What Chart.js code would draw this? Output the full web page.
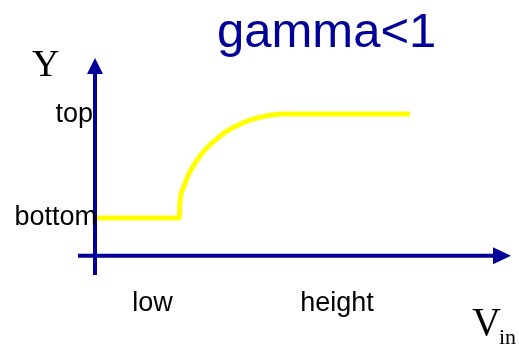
<!DOCTYPE html>
<html>
<head>
<meta charset="utf-8">
<script src="https://cdn.jsdelivr.net/npm/chart.js@4"></script>
<style>
  html, body { margin: 0; padding: 0; background: #fff; }
  canvas { display: block; }
</style>
</head>
<body>
<canvas id="gammaChart" width="519" height="347"></canvas>
<script>
// input voltage (arbitrary units, 0 = Y axis) and output level (0 = bottom, 1 = top)
const vin = [0, 8.43, 8.5, 8.83, 9.33, 10.0, 10.83, 11.83, 13.0, 14.17, 15.5, 17.17, 18.83, 31.5];
const yOut = [0, 0, 0.157, 0.285, 0.413, 0.526, 0.637, 0.733, 0.824, 0.888, 0.942, 0.984, 1, 1];

const yTickValues = [1, 0];
const yTickLabels = ['top', 'bottom'];
const xTickValues = [5.75, 24.2];
const xTickLabels = ['low', 'height'];

const titleText = 'gamma<1';
const NAVY = '#000099';

// draws the arrowed axes, labels and title on top of the curve
const axesPlugin = {
    id: 'arrowAxes',
    afterDatasetsDraw(chart) {
        const ctx = chart.ctx;
        const xs = chart.scales.x;
        const ys = chart.scales.y;
        const area = chart.chartArea;
        const ox = xs.getPixelForValue(0);
        const oy = ys.getPixelForValue(-0.365);

        ctx.save();
        ctx.strokeStyle = NAVY;
        ctx.fillStyle = NAVY;
        ctx.lineWidth = 4;

        // Y axis
        ctx.beginPath();
        ctx.moveTo(ox, area.bottom);
        ctx.lineTo(ox, area.top + 14);
        ctx.stroke();
        ctx.beginPath();
        ctx.moveTo(ox, area.top);
        ctx.lineTo(ox - 8, area.top + 16);
        ctx.lineTo(ox + 8, area.top + 16);
        ctx.closePath();
        ctx.fill();

        // X axis
        ctx.beginPath();
        ctx.moveTo(area.left, oy);
        ctx.lineTo(area.right - 16, oy);
        ctx.stroke();
        ctx.beginPath();
        ctx.moveTo(area.right, oy);
        ctx.lineTo(area.right - 18, oy - 8.5);
        ctx.lineTo(area.right - 18, oy + 8.5);
        ctx.closePath();
        ctx.fill();

        // tick labels
        ctx.fillStyle = '#000';
        ctx.font = '27px "Liberation Sans", Arial, sans-serif';
        ctx.textAlign = 'right';
        ctx.textBaseline = 'middle';
        yTickValues.forEach((v, i) => {
            ctx.fillText(yTickLabels[i], i === 0 ? ox - 2 : ox + 2, ys.getPixelForValue(v));
        });
        ctx.textAlign = 'center';
        ctx.textBaseline = 'alphabetic';
        xTickValues.forEach((v, i) => {
            ctx.fillText(xTickLabels[i], xs.getPixelForValue(v), 311);
        });

        // axis titles
        ctx.font = '38px "Liberation Serif", "Times New Roman", serif';
        ctx.textAlign = 'left';
        ctx.fillText('Y', 32, 76);
        ctx.font = '40px "Liberation Serif", "Times New Roman", serif';
        ctx.fillText('V', 472, 335);
        ctx.font = '22px "Liberation Serif", "Times New Roman", serif';
        ctx.fillText('in', 499, 344);

        // title
        ctx.fillStyle = NAVY;
        ctx.font = '49px "Liberation Sans", Arial, sans-serif';
        ctx.fillText(titleText, 217, 47);
        ctx.restore();
    }
};

new Chart(document.getElementById('gammaChart').getContext('2d'), {
    type: 'line',
    data: {
        datasets: [{
            data: vin.map((v, i) => ({ x: v, y: yOut[i] })),
            borderColor: '#ffff00',
            borderWidth: 5,
            pointRadius: 0,
            cubicInterpolationMode: 'monotone',
            fill: false
        }]
    },
    options: {
        responsive: false,
        animation: false,
        layout: { padding: { left: 78, right: 8, top: 58, bottom: 72 } },
        scales: {
            x: { type: 'linear', min: -1.7, max: 41.6, display: false },
            y: { type: 'linear', min: -0.55, max: 1.54, display: false }
        },
        plugins: {
            legend: { display: false },
            tooltip: { enabled: false }
        }
    },
    plugins: [axesPlugin]
});
</script>
</body>
</html>
